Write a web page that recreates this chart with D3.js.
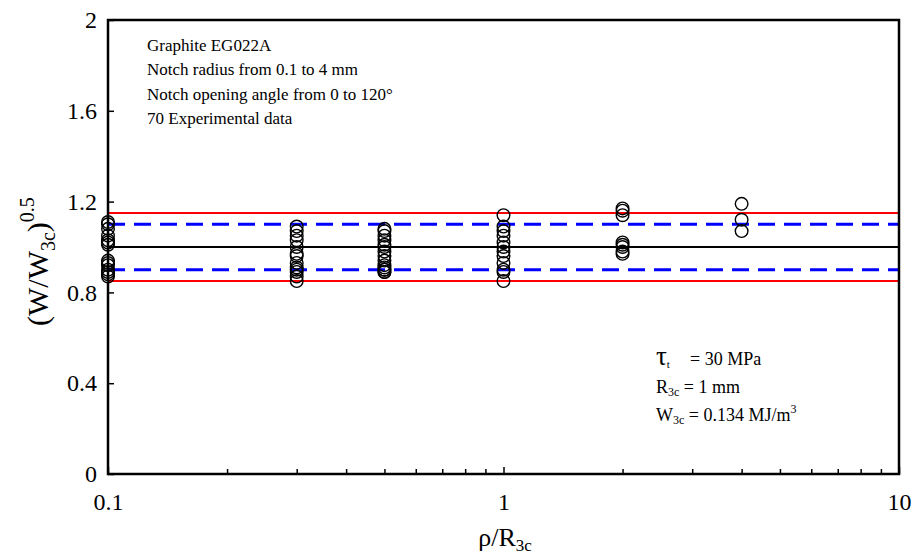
<!DOCTYPE html>
<html>
<head>
<meta charset="utf-8">
<script src="https://cdn.jsdelivr.net/npm/d3@7"></script>
<style>
  html, body { margin: 0; padding: 0; background: #fff; }
  svg { display: block; font-family: "Liberation Serif", "Times New Roman", serif; }
</style>
</head>
<body>
<svg id="chart" width="916" height="559"></svg>
<script>
// Normalised notch radius groups and the measured (W/W3c)^0.5 values at each
const radiusGroups = [0.1, 0.3, 0.5, 1, 2, 4];
const energyRatios = [
  [1.11, 1.10, 1.08, 1.05, 1.03, 1.02, 1.01, 0.94, 0.93, 0.92, 0.90, 0.89, 0.88, 0.87],
  [1.09, 1.07, 1.05, 1.03, 1.00, 0.97, 0.96, 0.93, 0.91, 0.90, 0.89, 0.87, 0.85],
  [1.08, 1.07, 1.05, 1.03, 1.01, 1.00, 0.98, 0.96, 0.94, 0.92, 0.91, 0.90, 0.90, 0.89, 0.89],
  [1.14, 1.09, 1.07, 1.05, 1.02, 1.00, 0.98, 0.96, 0.93, 0.90, 0.89, 0.85],
  [1.17, 1.16, 1.14, 1.02, 1.01, 1.00, 0.98, 0.97],
  [1.19, 1.12, 1.07]
];

// Reference band: mean and scatter limits
const meanLevel = 1.0;
const innerBand = [0.9, 1.1];
const outerBand = [0.85, 1.15];

// Axis tick values
const yTicks = [0, 0.4, 0.8, 1.2, 1.6, 2];
const yTickLabels = ["0", "0.4", "0.8", "1.2", "1.6", "2"];
const xMajorTicks = [0.1, 1, 10];
const xTickLabels = ["0.1", "1", "10"];
const xMinorTicks = [0.2, 0.3, 0.4, 0.5, 0.6, 0.7, 0.8, 0.9, 2, 3, 4, 5, 6, 7, 8, 9];

const svg = d3.select("#chart");
const plotLeft = 108, plotRight = 899, plotTop = 20, plotBottom = 474;

const x = d3.scaleLog().domain([0.1, 10]).range([plotLeft, plotRight]);
const y = d3.scaleLinear().domain([0, 2]).range([plotBottom, plotTop]);

// Horizontal reference lines
function hline(v, color, width, dash) {
  svg.append("line")
    .attr("x1", x(0.1)).attr("x2", x(10))
    .attr("y1", y(v)).attr("y2", y(v))
    .attr("stroke", color).attr("stroke-width", width)
    .attr("stroke-dasharray", dash || null);
}
outerBand.forEach(v => hline(v, "#ff0000", 2));
innerBand.forEach(v => hline(v, "#0000ff", 3, "17,9"));
hline(meanLevel, "#000", 2);

// Data points
const points = [];
radiusGroups.forEach((r, i) => energyRatios[i].forEach(v => points.push({ r, v })));
svg.append("g").selectAll("circle").data(points).join("circle")
  .attr("cx", d => x(d.r)).attr("cy", d => y(d.v)).attr("r", 6.3)
  .attr("fill", "none").attr("stroke", "#000").attr("stroke-width", 1.4);

// Axes with inward ticks
const yAxis = d3.axisLeft(y).tickValues(yTicks).tickSize(-6)
  .tickFormat((d, i) => yTickLabels[i]).tickPadding(11);
const gy = svg.append("g").attr("transform", `translate(${plotLeft},0)`).call(yAxis);

const xAxis = d3.axisBottom(x).tickValues(xMajorTicks).tickSize(-7)
  .tickFormat((d, i) => xTickLabels[i]).tickPadding(19);
const gx = svg.append("g").attr("transform", `translate(0,${plotBottom})`).call(xAxis);
const xMinor = d3.axisBottom(x).tickValues(xMinorTicks).tickSize(-5).tickFormat("");
const gxm = svg.append("g").attr("transform", `translate(0,${plotBottom})`).call(xMinor);

[gy, gx, gxm].forEach(g => {
  g.select(".domain").remove();
  g.selectAll("line").attr("stroke", "#000").attr("stroke-width", 1.5);
  g.selectAll("text").attr("font-family", "Liberation Serif, serif")
    .attr("font-size", 24).attr("fill", "#000");
});

// Frame
svg.append("rect")
  .attr("x", plotLeft).attr("y", plotTop)
  .attr("width", plotRight - plotLeft).attr("height", plotBottom - plotTop)
  .attr("fill", "none").attr("stroke", "#000").attr("stroke-width", 2.5);

// Axis titles
const xt = svg.append("text").attr("x", 505).attr("y", 546)
  .attr("text-anchor", "middle").attr("font-size", 26);
xt.append("tspan").text("ρ/R");
xt.append("tspan").attr("font-size", 17).attr("dy", 5).text("3c");

const yt = svg.append("text")
  .attr("transform", `translate(48,326) rotate(-90)`)
  .attr("text-anchor", "start").attr("font-size", 30);
yt.append("tspan").text("(W/W");
yt.append("tspan").attr("font-size", 20).attr("dy", 7).text("3c");
yt.append("tspan").attr("dy", -7).text(")");
yt.append("tspan").attr("font-size", 20).attr("dy", -14).text("0.5");

// Material notes
const notes = ["Graphite EG022A", "Notch radius from 0.1 to 4 mm",
  "Notch opening angle from 0 to 120°", "70 Experimental data"];
svg.append("g").selectAll("text").data(notes).join("text")
  .attr("x", 147).attr("y", (d, i) => 51 + i * 24.3)
  .attr("font-size", 17).text(d => d);

// Parameters
const p1 = svg.append("text").attr("x", 656).attr("y", 365).attr("font-size", 18);
p1.append("tspan").attr("font-size", 27).text("τ");
p1.append("tspan").attr("font-size", 11).attr("dy", 3).text("t");
p1.append("tspan").attr("dy", -3).attr("x", 690).text("= 30 MPa");

const p2 = svg.append("text").attr("x", 656).attr("y", 393).attr("font-size", 18);
p2.append("tspan").text("R");
p2.append("tspan").attr("font-size", 12).attr("dy", 3).text("3c");
p2.append("tspan").attr("dy", -3).text(" = 1 mm");

const p3 = svg.append("text").attr("x", 656).attr("y", 421).attr("font-size", 18);
p3.append("tspan").text("W");
p3.append("tspan").attr("font-size", 12).attr("dy", 3).text("3c");
p3.append("tspan").attr("dy", -3).text(" = 0.134 MJ/m");
p3.append("tspan").attr("font-size", 12).attr("dy", -8).text("3");
</script>
</body>
</html>
